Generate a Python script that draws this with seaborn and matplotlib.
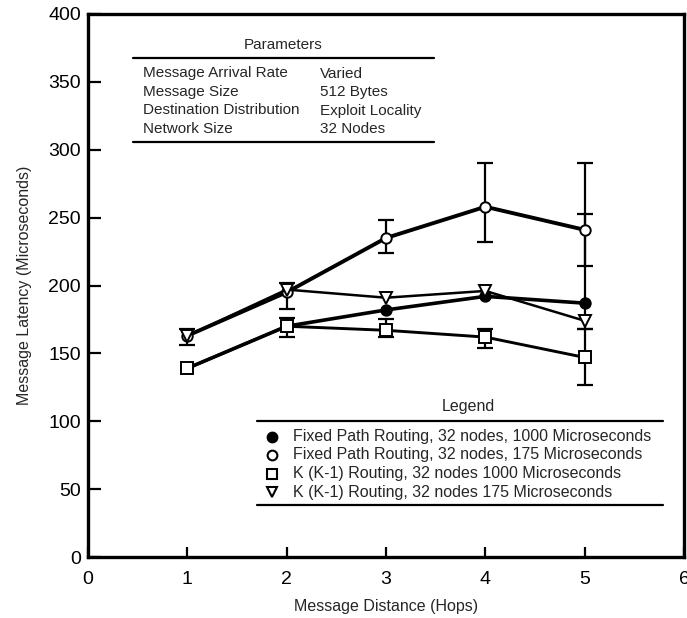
import numpy as np
import pandas as pd
import matplotlib
matplotlib.use("Agg")
import matplotlib.pyplot as plt
import seaborn as sns

# ---- data ----
hops = [1, 2, 3, 4, 5]
fixed_1000 = [139, 170, 182, 192, 187]
fixed_175 = [163, 195, 235, 258, 241]
k_1000 = [139, 170, 167, 162, 147]
k_175 = [163, 197, 191, 196, 174]

# error bar ranges (low, high); None where no bar
fixed_175_lo = [156, 183, 224, 232, 214]
fixed_175_hi = [168, 202, 248, 290, 290]
fixed_1000_lo = [None, None, None, None, 168]
fixed_1000_hi = [None, None, None, None, 253]
k_1000_lo = [None, 162, 162, 154, 127]
k_1000_hi = [None, 176, 175, 168, 168]

labels = [
    "Fixed Path Routing, 32 nodes, 1000 Microseconds",
    "Fixed Path Routing, 32 nodes, 175 Microseconds",
    "K (K-1) Routing, 32 nodes 1000 Microseconds",
    "K (K-1) Routing, 32 nodes 175 Microseconds",
]
param_names = ["Message Arrival Rate", "Message Size",
               "Destination Distribution", "Network Size"]
param_values = ["Varied", "512 Bytes", "Exploit Locality", "32 Nodes"]
xticks = [0, 1, 2, 3, 4, 5, 6]
yticks = [0, 50, 100, 150, 200, 250, 300, 350, 400]

sns.set_theme(style="white")
plt.rcParams['font.family'] = ['Liberation Sans', 'DejaVu Sans']

fig = plt.figure(figsize=(6.87, 6.18), dpi=100)
ax = fig.add_axes([88/687, 1-557/618, 596/687, 543/618])

series = [
    (fixed_1000, dict(marker='o', markerfacecolor='black', markersize=7.5), 2.6, fixed_1000_lo, fixed_1000_hi),
    (fixed_175, dict(marker='o', markerfacecolor='white', markersize=7.5), 2.8, fixed_175_lo, fixed_175_hi),
    (k_1000, dict(marker='s', markerfacecolor='white', markersize=8.5), 2.1, k_1000_lo, k_1000_hi),
    (k_175, dict(marker='v', markerfacecolor='white', markersize=8.5), 1.8, None, None),
]

for i, (vals, mk, lw, lo, hi) in enumerate(series):
    df = pd.DataFrame({"x": hops, "y": vals})
    if lo is not None:
        ex, ey, el, eh = [], [], [], []
        for xv, yv, l, h in zip(hops, vals, lo, hi):
            if l is not None:
                ex.append(xv); ey.append(yv); el.append(yv - l); eh.append(h - yv)
        ax.errorbar(ex, ey, yerr=[el, eh], fmt='none', ecolor='black',
                    elinewidth=1.6, capsize=5.5, capthick=1.6, zorder=2)
    sns.lineplot(data=df, x="x", y="y", ax=ax, color='black', linewidth=lw,
                 markeredgecolor='black', markeredgewidth=1.4,
                 zorder=3 + i, **mk)

ax.set_xlim(0, 6)
ax.set_ylim(0, 400)
ax.set_xticks(xticks)
ax.set_yticks(yticks)
ax.set_xlabel("Message Distance (Hops)", fontsize=11.5, labelpad=8)
ax.set_ylabel("Message Latency (Microseconds)", fontsize=11.5, labelpad=12)
ax.tick_params(axis='both', which='both', direction='in', width=1.6,
               labelsize=14, color='black', labelcolor='black',
               left=True, bottom=True, top=False, right=False)
ax.tick_params(axis='y', length=9, pad=5)
ax.tick_params(axis='x', length=7, pad=10)
for s in ax.spines.values():
    s.set_color('black')
    s.set_linewidth(2.4)
ax.grid(False)

def fx(px):
    return (px - 88) / 596

def fy(py):
    return (557 - py) / 543

tr = ax.transAxes
# Parameters table
ax.text(fx(283), fy(45), "Parameters", transform=tr, ha='center', va='center', fontsize=11)
ax.plot([fx(133), fx(434)], [fy(58), fy(58)], transform=tr, color='black', lw=1.6, clip_on=False)
for k, (n, v) in enumerate(zip(param_names, param_values)):
    yy = fy(73.5 + 18.5 * k)
    ax.text(fx(143), yy, n, transform=tr, ha='left', va='center', fontsize=11)
    ax.text(fx(320), yy, v, transform=tr, ha='left', va='center', fontsize=11)
ax.plot([fx(133), fx(434)], [fy(142), fy(142)], transform=tr, color='black', lw=1.6, clip_on=False)

# Legend block
ax.text(fx(468), fy(407), "Legend", transform=tr, ha='center', va='center', fontsize=11.5)
ax.plot([fx(257), fx(663)], [fy(421), fy(421)], transform=tr, color='black', lw=1.6, clip_on=False)
for k, (lab, s) in enumerate(zip(labels, series)):
    yy = fy(436.5 + 18.5 * k)
    mk = dict(s[1])
    mk['markersize'] = 7
    ax.plot([fx(272)], [yy], transform=tr, linestyle='none', color='black',
            markeredgecolor='black', markeredgewidth=1.5, **mk)
    ax.text(fx(293), yy, lab, transform=tr, ha='left', va='center', fontsize=11.5)
ax.plot([fx(257), fx(663)], [fy(505), fy(505)], transform=tr, color='black', lw=1.6, clip_on=False)

fig.savefig("out.png", dpi=100)
